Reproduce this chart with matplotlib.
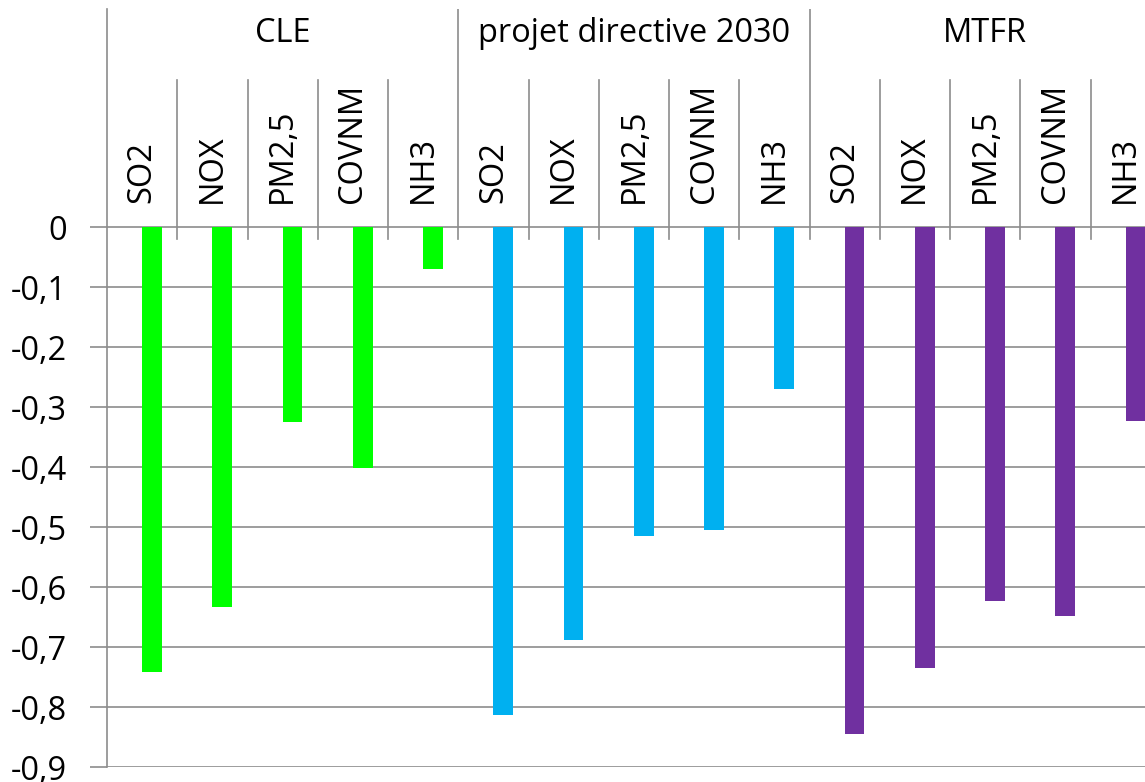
import numpy as np
import matplotlib
matplotlib.use('Agg')
import matplotlib.pyplot as plt

# Data
groups = ['CLE', 'projet directive 2030', 'MTFR']
pollutants = ['SO2', 'NOX', 'PM2,5', 'COVNM', 'NH3']
cle = [-0.741, -0.633, -0.324, -0.402, -0.069]
projet_2030 = [-0.813, -0.688, -0.514, -0.504, -0.269]
mtfr = [-0.845, -0.735, -0.623, -0.648, -0.323]
group_colors = ['#00FF00', '#00B0F0', '#7030A0']
yticks = [0, -0.1, -0.2, -0.3, -0.4, -0.5, -0.6, -0.7, -0.8, -0.9]

plt.rcParams['font.family'] = ['Open Sans', 'DejaVu Sans']
grid_col = '#8c8c8c'
fs = 23.5

fig = plt.figure(figsize=(11.45, 7.82), dpi=100)
# axes spans from the y axis line (x=107 px) to the right edge, y 9..767 px
ax = fig.add_axes([107 / 1145, (782 - 767) / 782, 1 - 107 / 1145, (767 - 9) / 782])

n_cat = len(pollutants)
y_top = (227.5 - 9) / 599.5
ax.set_xlim(-0.5, -0.5 + 1038 / 70.25)
ax.set_ylim(-0.9, y_top)

# bars, one colour per group
series = [cle, projet_2030, mtfr]
for g, vals in enumerate(series):
    x = np.arange(n_cat) + g * n_cat
    ax.bar(x + 0.14, vals, width=0.28, color=group_colors[g], zorder=3)

# y axis
ax.set_yticks(yticks)
ax.set_yticklabels([('%g' % t).replace('.', ',') for t in yticks], fontsize=fs)
ax.tick_params(axis='y', length=12, width=1.2, color=grid_col, pad=17)
ax.tick_params(axis='x', bottom=False, labelbottom=False)
ax.yaxis.grid(True, color=grid_col, linewidth=1.2, zorder=0)
for s in ['top', 'right', 'bottom']:
    ax.spines[s].set_visible(False)
ax.spines['left'].set_color(grid_col)
ax.spines['left'].set_linewidth(1.2)

# header: category labels, separators and group names
sep_low = -11.5 / 599.5
cat_top = (227.5 - 80) / 599.5
for g, name in enumerate(groups):
    for i, p in enumerate(pollutants):
        c = g * n_cat + i
        ax.text(c, 0.041, p, rotation=90, ha='center', va='bottom',
                fontsize=fs, clip_on=True)
        if i > 0:
            ax.plot([c - 0.5, c - 0.5], [sep_low, cat_top], color=grid_col,
                    linewidth=1.2, zorder=1)
    start = g * n_cat - 0.5
    if g > 0:
        ax.plot([start, start], [sep_low, y_top], color=grid_col,
                linewidth=1.2, zorder=1)
    ax.text(start + n_cat / 2, 0.324, name, ha='center', va='center',
            fontsize=fs)

fig.savefig('out.png', dpi=100)
